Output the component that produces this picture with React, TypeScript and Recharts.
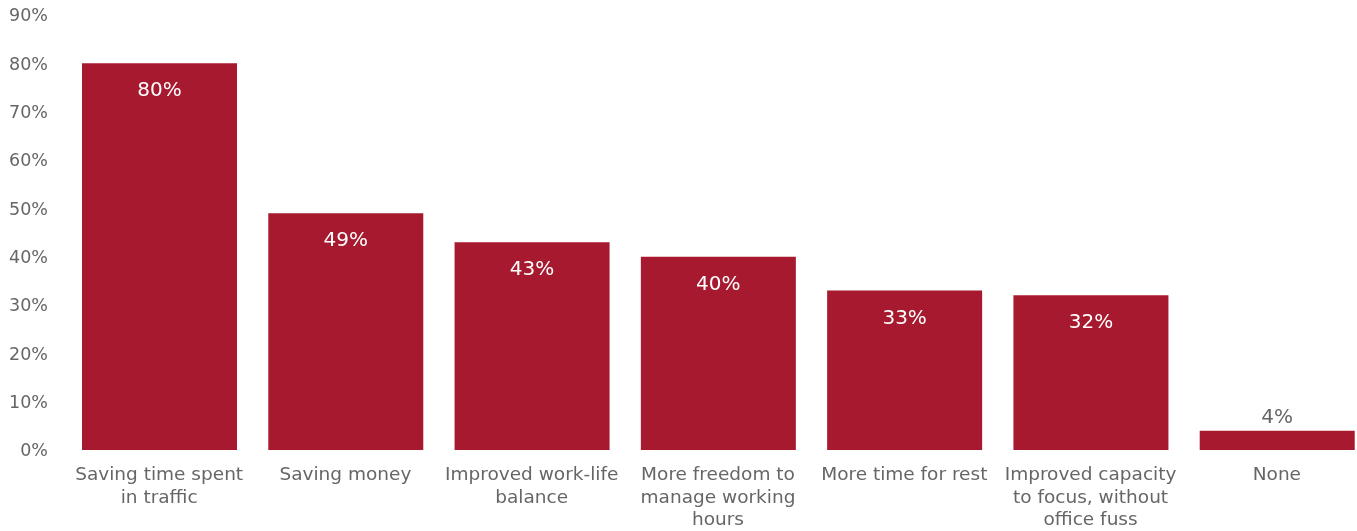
import { BarChart, Bar, XAxis, YAxis, LabelList } from "recharts";

const categories = [
  "Saving time spent\nin traffic",
  "Saving money",
  "Improved work-life\nbalance",
  "More freedom to\nmanage working\nhours",
  "More time for rest",
  "Improved capacity\nto focus, without\noffice fuss",
  "None",
];
const values = [80, 49, 43, 40, 33, 32, 4];
const yTicks = [0, 10, 20, 30, 40, 50, 60, 70, 80, 90];

const data = categories.map((name, i) => ({ name, value: values[i] }));

const FONT = "'DejaVu Sans', sans-serif";
const GREY = "#666666";
const RED = "#A6192E";

function CategoryTick(props: any) {
  const { x, y, payload } = props;
  const lines = String(payload.value).split("\n");
  return (
    <text x={x} y={y} textAnchor="middle" fill={GREY} fontSize={18.5} fontFamily={FONT}>
      {lines.map((l, i) => (
        <tspan key={i} x={x} dy={i === 0 ? 22 : 22.5}>
          {l}
        </tspan>
      ))}
    </text>
  );
}

// white value inside the bar top; small bars get it above in grey
function ValueLabel(props: any) {
  const { x, y, width, height, value } = props;
  const inside = height > 40;
  return (
    <text
      x={x + width / 2}
      y={inside ? y + 33 : y - 8}
      textAnchor="middle"
      fill={inside ? "#ffffff" : GREY}
      fontSize={20}
      fontFamily={FONT}
    >
      {value}%
    </text>
  );
}

export default function App() {
  return (
    <div style={{ position: "fixed", left: 0, top: 0, width: 1357, height: 531, overflow: "hidden" }}>
      <BarChart
        width={1370}
        height={531}
        data={data}
        margin={{ top: 15, right: 0, bottom: 0, left: 0 }}
        barSize={155}
      >
        <YAxis
          domain={[0, 90]}
          ticks={yTicks}
          width={66}
          axisLine={false}
          tickLine={false}
          tickMargin={12}
          tickFormatter={(v) => `${v}%`}
          tick={{ fill: GREY, fontSize: 17.5, fontFamily: FONT }}
        />
        <XAxis
          dataKey="name"
          height={81}
          axisLine={false}
          tickLine={false}
          interval={0}
          tick={<CategoryTick />}
        />
        <Bar dataKey="value" fill={RED} isAnimationActive={false}>
          <LabelList dataKey="value" content={<ValueLabel />} />
        </Bar>
      </BarChart>
    </div>
  );
}
